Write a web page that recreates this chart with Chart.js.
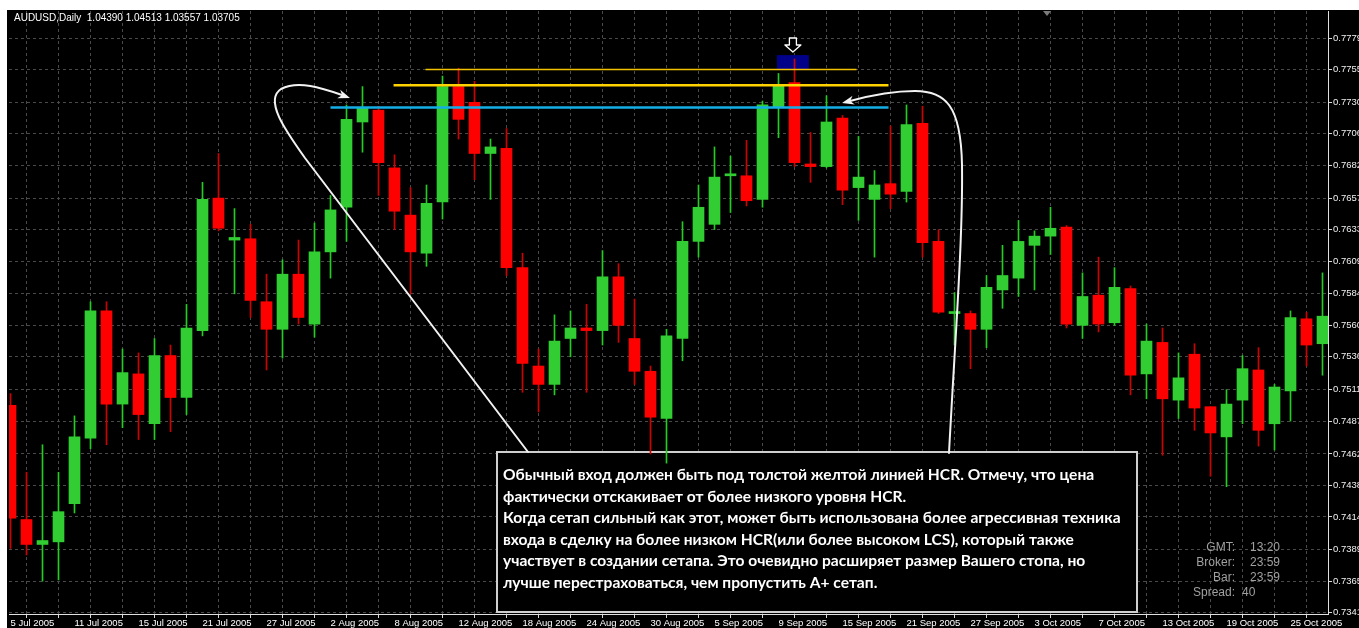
<!DOCTYPE html>
<html><head><meta charset="utf-8">
<script src="https://cdn.jsdelivr.net/npm/chart.js@4.4.1/dist/chart.umd.min.js"></script>
<style>html,body{margin:0;padding:0;background:#fff;overflow:hidden}canvas{display:block}</style>
</head><body>
<canvas id="c" width="1359" height="628"></canvas>
<script>
// ---- DATA ----
const dates = [
 '5 Jul 2005','6 Jul 2005','7 Jul 2005','8 Jul 2005','11 Jul 2005','12 Jul 2005','13 Jul 2005','14 Jul 2005','15 Jul 2005','18 Jul 2005',
 '19 Jul 2005','20 Jul 2005','21 Jul 2005','22 Jul 2005','25 Jul 2005','26 Jul 2005','27 Jul 2005','28 Jul 2005','29 Jul 2005','1 Aug 2005',
 '2 Aug 2005','3 Aug 2005','4 Aug 2005','5 Aug 2005','8 Aug 2005','9 Aug 2005','10 Aug 2005','11 Aug 2005','12 Aug 2005','15 Aug 2005',
 '16 Aug 2005','17 Aug 2005','18 Aug 2005','19 Aug 2005','22 Aug 2005','23 Aug 2005','24 Aug 2005','25 Aug 2005','26 Aug 2005','29 Aug 2005',
 '30 Aug 2005','31 Aug 2005','1 Sep 2005','2 Sep 2005','5 Sep 2005','6 Sep 2005','7 Sep 2005','8 Sep 2005','9 Sep 2005','12 Sep 2005',
 '13 Sep 2005','14 Sep 2005','15 Sep 2005','16 Sep 2005','19 Sep 2005','20 Sep 2005','21 Sep 2005','22 Sep 2005','23 Sep 2005','26 Sep 2005',
 '27 Sep 2005','28 Sep 2005','29 Sep 2005','30 Sep 2005','3 Oct 2005','4 Oct 2005','5 Oct 2005','6 Oct 2005','7 Oct 2005','10 Oct 2005',
 '11 Oct 2005','12 Oct 2005','13 Oct 2005','14 Oct 2005','17 Oct 2005','18 Oct 2005','19 Oct 2005','20 Oct 2005','21 Oct 2005','24 Oct 2005',
 '25 Oct 2005','26 Oct 2005','27 Oct 2005'];
const openP  = [0.7499,0.7412,0.7393,0.7395,0.7424,0.7474,0.7571,0.7500,0.7523,0.7485,0.7537,0.7505,0.7556,0.7657,0.7625,0.7626,0.7578,0.7557,0.7599,0.7561,
 0.7616,0.7650,0.7715,0.7724,0.7680,0.7644,0.7615,0.7654,0.7742,0.7730,0.7691,0.7695,0.7604,0.7529,0.7515,0.7550,0.7558,0.7556,0.7597,0.7550,
 0.7525,0.7489,0.7550,0.7624,0.7637,0.7674,0.7674,0.7656,0.7726,0.7745,0.7683,0.7681,0.7718,0.7665,0.7656,0.7668,0.7662,0.7714,0.7624,0.7569,
 0.7569,0.7557,0.7587,0.7596,0.7621,0.7628,0.7635,0.7560,0.7583,0.7562,0.7588,0.7523,0.7547,0.7503,0.7538,0.7498,0.7475,0.7503,0.7526,0.7485,
 0.7510,0.7565,0.7546];
const highP  = [0.7508,0.7448,0.7469,0.7448,0.7491,0.7578,0.7578,0.7542,0.7539,0.7550,0.7545,0.7576,0.7669,0.7691,0.7649,0.7637,0.7599,0.7610,0.7625,0.7638,
 0.7659,0.7728,0.7742,0.7727,0.7690,0.7665,0.7667,0.7750,0.7756,0.7746,0.7702,0.7710,0.7615,0.7542,0.7568,0.7571,0.7576,0.7617,0.7607,0.7580,
 0.7529,0.7557,0.7639,0.7667,0.7696,0.7689,0.7701,0.7731,0.7752,0.7763,0.7707,0.7735,0.7720,0.7704,0.7678,0.7712,0.7728,0.7727,0.7633,0.7585,
 0.7571,0.7598,0.7621,0.7640,0.7632,0.7650,0.7636,0.7600,0.7612,0.7604,0.7590,0.7561,0.7558,0.7539,0.7546,0.7498,0.7511,0.7537,0.7543,0.7515,
 0.7571,0.7570,0.7600];
const lowP   = [0.7390,0.7385,0.7365,0.7366,0.7417,0.7466,0.7469,0.7482,0.7473,0.7473,0.7479,0.7492,0.7552,0.7632,0.7584,0.7566,0.7526,0.7535,0.7561,0.7551,
 0.7596,0.7624,0.7692,0.7659,0.7633,0.7584,0.7605,0.7641,0.7702,0.7671,0.7656,0.7598,0.7509,0.7494,0.7507,0.7536,0.7509,0.7545,0.7547,0.7515,
 0.7462,0.7455,0.7533,0.7612,0.7633,0.7646,0.7651,0.7650,0.7703,0.7681,0.7669,0.7680,0.7652,0.7640,0.7612,0.7649,0.7654,0.7612,0.7569,0.7545,
 0.7527,0.7543,0.7573,0.7582,0.7587,0.7614,0.7558,0.7550,0.7555,0.7560,0.7507,0.7504,0.7461,0.7489,0.7480,0.7445,0.7437,0.7485,0.7468,0.7465,
 0.7487,0.7529,0.7522];
const closeP = [0.7413,0.7393,0.7396,0.7418,0.7475,0.7571,0.7500,0.7524,0.7492,0.7537,0.7505,0.7558,0.7656,0.7634,0.7627,0.7579,0.7557,0.7599,0.7566,0.7616,
 0.7648,0.7717,0.7726,0.7684,0.7647,0.7616,0.7653,0.7742,0.7717,0.7691,0.7696,0.7604,0.7531,0.7515,0.7548,0.7558,0.7556,0.7597,0.7560,0.7525,
 0.7490,0.7552,0.7624,0.7650,0.7673,0.7675,0.7655,0.7728,0.7743,0.7684,0.7681,0.7715,0.7663,0.7673,0.7667,0.7660,0.7713,0.7623,0.7570,0.7570,
 0.7557,0.7589,0.7598,0.7624,0.7628,0.7634,0.7561,0.7582,0.7561,0.7589,0.7522,0.7548,0.7504,0.7520,0.7497,0.7478,0.7500,0.7527,0.7480,0.7513,
 0.7566,0.7545,0.7567];
const priceTicks = [0.7779,0.7755,0.7730,0.7706,0.7682,0.7657,0.7633,0.7609,0.7584,0.7560,0.7536,0.7511,0.7487,0.7462,0.7438,0.7414,0.7389,0.7365,0.7341];
const gridBars = [0,2,4,6,8,10,12,14,16,18,20,22,24,26,28,30,32,34,36,38,40,42,44,46,48,50,52,54,56,58,60,62,64,66,68,70,72,74,76,78,80,82];
const labelBars = [0,4,8,12,16,20,24,28,32,36,40,44,48,52,56,60,64,68,72,76,80];
// horizontal levels: [price, fromBar, toBar]
const levelThinYellow  = [0.7755, 25.94, 52.875];
const levelThickYellow = [0.7743, 23.94, 54.875];
const levelBlue        = [0.7726, 20.0, 54.875];
const highlightBox = {x0: 47.9, x1: 49.9, y0: 0.7755, y1: 0.7766};
const headerText = 'AUDUSD,Daily  1.04390 1.04513 1.03557 1.03705';
const noteLines = [
 'Обычный вход должен быть под толстой желтой линией HCR. Отмечу, что цена',
 'фактически отскакивает от более низкого уровня HCR.',
 'Когда сетап сильный как этот, может быть использована более агрессивная техника',
 'входа в сделку на более низком HCR(или более высоком LCS), который также',
 'участвует в создании сетапа. Это очевидно расширяет размер Вашего стопа, но',
 'лучше перестраховаться, чем пропустить A+ сетап.'];
const infoLabels = ['GMT:','Broker:','Bar:','Spread:'];
const infoValues = ['13:20','23:59','23:59','40'];

// ---- COLORS ----
const UP = '#32cd32', DOWN = '#ff0000', UPW = '#22cc22', DOWNW = '#d00000';
const isUp = openP.map((o,i) => closeP[i] >= o);

const bodies = openP.map((o,i) => ({x: i, y: [o, closeP[i]]}));
const wicks  = openP.map((o,i) => ({x: i, y: [lowP[i], highP[i]]}));
const lvl = l => [{x: l[1], y: l[0]}, {x: l[2], y: l[0]}];

const bgPlugin = {
  id: 'bg',
  beforeDraw(chart) {
    const ctx = chart.ctx;
    ctx.save();
    ctx.fillStyle = '#ffffff'; ctx.fillRect(0, 0, chart.width, chart.height);
    ctx.fillStyle = '#000000'; ctx.fillRect(7, 10, chart.width - 7, chart.height - 10);
    ctx.restore();
  }
};

const underPlugin = {
  id: 'under',
  beforeDatasetsDraw(chart) {
    const ctx = chart.ctx, xs = chart.scales.x, ys = chart.scales.y;
    ctx.save();
    // highlight box
    const bx0 = xs.getPixelForValue(highlightBox.x0), bx1 = xs.getPixelForValue(highlightBox.x1);
    const by0 = ys.getPixelForValue(highlightBox.y1), by1 = ys.getPixelForValue(highlightBox.y0);
    ctx.fillStyle = '#000088';
    ctx.fillRect(bx0, by0, bx1 - bx0, by1 - by0);
    // note box
    ctx.fillStyle = '#000';
    ctx.fillRect(497, 452, 640, 160);
    ctx.strokeStyle = '#cfcfcf'; ctx.lineWidth = 2;
    ctx.strokeRect(497, 452, 640, 160);
    let size = 15;
    ctx.font = 'bold ' + size + 'px Lato';
    const w = ctx.measureText(noteLines[2]).width;
    size = size * 618 / w;
    ctx.font = 'bold ' + size.toFixed(2) + 'px Lato';
    ctx.fillStyle = '#ffffff';
    ctx.textBaseline = 'alphabetic'; ctx.textAlign = 'left';
    noteLines.forEach((t, k) => ctx.fillText(t, 503, 480 + k * 21.6));
    ctx.restore();
  }
};

function arrowHead(ctx, tx, ty, fx, fy, len, half) {
  const a = Math.atan2(ty - fy, tx - fx);
  ctx.beginPath();
  ctx.moveTo(tx, ty);
  ctx.lineTo(tx - len * Math.cos(a) + half * Math.sin(a), ty - len * Math.sin(a) - half * Math.cos(a));
  ctx.lineTo(tx - len * 0.7 * Math.cos(a), ty - len * 0.7 * Math.sin(a));
  ctx.lineTo(tx - len * Math.cos(a) - half * Math.sin(a), ty - len * Math.sin(a) + half * Math.cos(a));
  ctx.closePath();
  ctx.fill();
}

const overPlugin = {
  id: 'over',
  afterDatasetsDraw(chart) {
    const ctx = chart.ctx;
    ctx.save();
    ctx.strokeStyle = '#f2f2f2'; ctx.fillStyle = '#f2f2f2'; ctx.lineWidth = 2;
    ctx.lineCap = 'round'; ctx.lineJoin = 'round';
    // left hook arrow
    ctx.beginPath();
    ctx.moveTo(528, 452);
    ctx.lineTo(305, 158);
    ctx.bezierCurveTo(285, 130, 264, 100, 281, 89);
    ctx.bezierCurveTo(298, 80, 322, 88, 342, 95);
    ctx.stroke();
    arrowHead(ctx, 350, 98, 336, 93, 12, 4.5);
    // right hook arrow
    ctx.beginPath();
    ctx.moveTo(949, 453);
    ctx.bezierCurveTo(955, 340, 963, 240, 962, 165);
    ctx.bezierCurveTo(961, 105, 945, 91, 915, 91);
    ctx.bezierCurveTo(895, 91, 872, 95, 850, 101);
    ctx.stroke();
    arrowHead(ctx, 842, 103, 858, 99, 12, 4.5);
    // down arrow above highlight
    const xs = chart.scales.x;
    const cx = (xs.getPixelForValue(highlightBox.x0) + xs.getPixelForValue(highlightBox.x1)) / 2;
    ctx.beginPath();
    ctx.moveTo(cx - 3.5, 38); ctx.lineTo(cx + 3.5, 38); ctx.lineTo(cx + 3.5, 45);
    ctx.lineTo(cx + 8, 45); ctx.lineTo(cx, 52); ctx.lineTo(cx - 8, 45); ctx.lineTo(cx - 3.5, 45);
    ctx.closePath();
    ctx.fillStyle = '#000'; ctx.fill();
    ctx.lineWidth = 1.3; ctx.strokeStyle = '#ffffff'; ctx.stroke();
    // chart-shift marker
    ctx.fillStyle = '#7a7a7a';
    ctx.beginPath(); ctx.moveTo(1043, 11); ctx.lineTo(1051, 11); ctx.lineTo(1047, 16); ctx.closePath(); ctx.fill();
    // header
    ctx.fillStyle = '#ffffff';
    ctx.font = '10px "Liberation Sans"';
    ctx.textBaseline = 'middle'; ctx.textAlign = 'left';
    ctx.fillText(headerText, 14, 18);
    // info
    ctx.font = '12px "Liberation Sans"';
    ctx.fillStyle = '#a0a0a0';
    infoLabels.forEach((t, k) => { ctx.textAlign = 'right'; ctx.fillText(t, 1235, 548 + k * 15); });
    infoValues.forEach((t, k) => { ctx.textAlign = 'left'; ctx.fillText(t, k === 3 ? 1242 : 1250, 548 + k * 15); });
    ctx.restore();
  }
};

new Chart(document.getElementById('c'), {
  type: 'bar',
  data: {
    datasets: [
      {type: 'line', data: lvl(levelThickYellow), borderColor: '#ffd200', borderWidth: 2.5, pointRadius: 0, order: -3},
      {type: 'line', data: lvl(levelThinYellow), borderColor: '#f2c200', borderWidth: 1.6, pointRadius: 0, order: -2},
      {type: 'line', data: lvl(levelBlue), borderColor: '#14aee6', borderWidth: 2.5, pointRadius: 0, order: -1},
      {data: bodies, backgroundColor: isUp.map(u => u ? UP : DOWN), barThickness: 11, minBarLength: 2, grouped: false, borderWidth: 0, order: 0},
      {data: wicks, backgroundColor: isUp.map(u => u ? UPW : DOWNW), barThickness: 1, grouped: false, borderWidth: 0, order: 1}
    ]
  },
  options: {
    responsive: false, animation: false, devicePixelRatio: 1,
    layout: {padding: {left: 9, top: 11, right: 0, bottom: 0}},
    plugins: {legend: {display: false}, tooltip: {enabled: false}},
    scales: {
      x: {
        type: 'linear', min: -0.09375, max: 82.34375, offset: false,
        afterBuildTicks: s => { s.ticks = gridBars.map(v => ({value: v})); },
        afterFit: s => { s.height = 14; },
        grid: {color: '#4a4a4a', lineWidth: 1, drawTicks: true, tickLength: 4, tickColor: '#d8d8d8', tickBorderDash: []},
        border: {display: true, color: '#e0e0e0', width: 1, dash: [3, 3]},
        ticks: {autoSkip: false, maxRotation: 0, minRotation: 0, align: 'start', padding: 0, color: '#ffffff',
          font: {family: 'Liberation Sans', size: 9.5},
          callback: v => labelBars.includes(v) ? dates[v] : ''}
      },
      y: {
        position: 'right', min: 0.73400, max: 0.77996,
        afterBuildTicks: s => { s.ticks = priceTicks.map(v => ({value: v})); },
        afterFit: s => { s.width = 31; },
        grid: {color: '#4a4a4a', lineWidth: 1, drawTicks: true, tickLength: 4, tickColor: '#d8d8d8', tickBorderDash: []},
        border: {display: true, color: '#e0e0e0', width: 1, dash: [3, 3]},
        ticks: {autoSkip: false, padding: 1, color: '#f0f0f0', font: {family: 'Liberation Sans', size: 9.5},
          callback: v => v.toFixed(4)}
      }
    }
  },
  plugins: [bgPlugin, underPlugin, overPlugin]
});
</script>
</body></html>
